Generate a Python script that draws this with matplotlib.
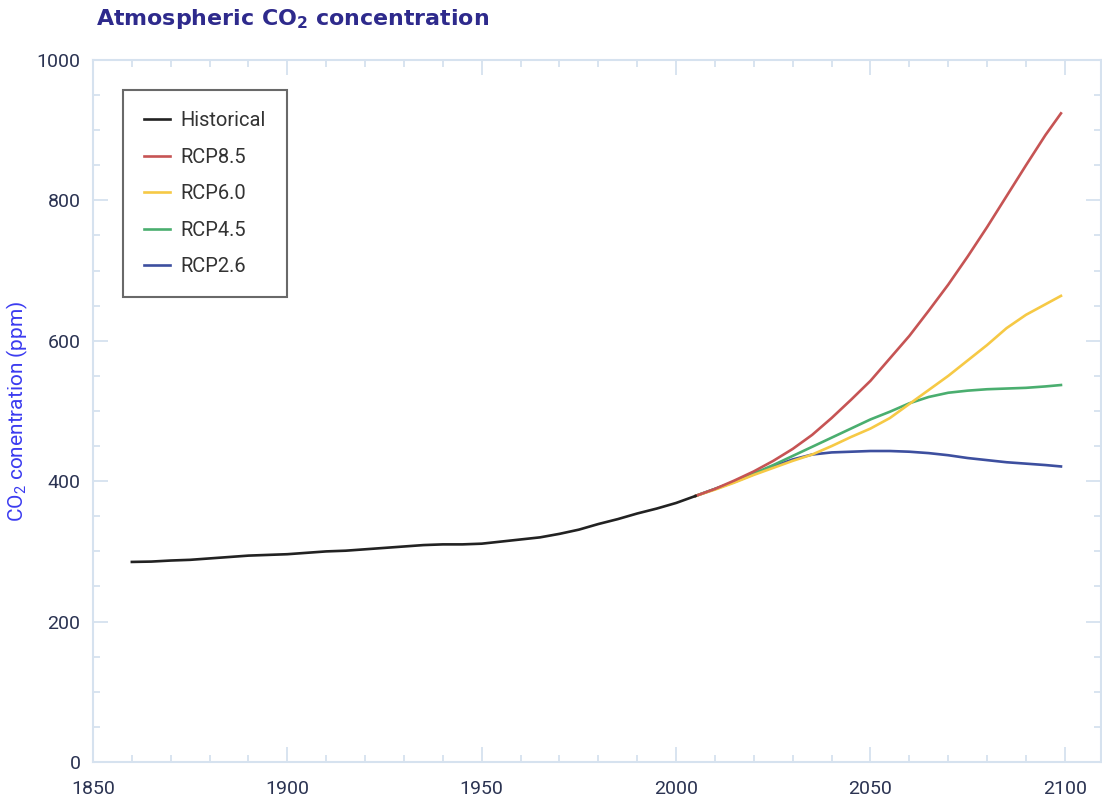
import numpy as np
import matplotlib.pyplot as plt
from matplotlib.ticker import MultipleLocator

# historical record (ppm)
hist_years = [1860, 1865, 1870, 1875, 1880, 1885, 1890, 1895, 1900, 1905, 1910, 1915,
              1920, 1925, 1930, 1935, 1940, 1945, 1950, 1955, 1960, 1965, 1970, 1975,
              1980, 1985, 1990, 1995, 2000, 2005]
hist_co2 = [285, 285.5, 287, 288, 290, 292, 294, 295, 296, 298, 300, 301,
            303, 305, 307, 309, 310, 310, 311, 314, 317, 320, 325, 331,
            339, 346, 354, 361, 369, 379]

# scenario projections (ppm)
proj_years = [2005, 2010, 2015, 2020, 2025, 2030, 2035, 2040, 2045, 2050,
              2055, 2060, 2065, 2070, 2075, 2080, 2085, 2090, 2095, 2099]
rcp85 = [379, 389, 401, 414, 429, 446, 466, 490, 516, 543,
         575, 607, 643, 680, 720, 762, 806, 850, 893, 924]
rcp60 = [379, 388, 398, 409, 419, 429, 438, 450, 463, 475,
         490, 510, 530, 550, 572, 594, 618, 637, 652, 664]
rcp45 = [379, 389, 399, 411, 423, 436, 449, 462, 475, 488,
         499, 511, 520, 526, 529, 531, 532, 533, 535, 537]
rcp26 = [379, 389, 399, 410, 421, 431, 438, 441, 442, 443,
         443, 442, 440, 437, 433, 430, 427, 425, 423, 421]

series_names = ['Historical', 'RCP8.5', 'RCP6.0', 'RCP4.5', 'RCP2.6']
series_colors = ['#222222', '#c65454', '#f6c945', '#4aae6f', '#3d4f9f']

frame_col = '#d6e2ef'
text_col = '#2b3352'

plt.rcParams['font.family'] = ['Roboto', 'DejaVu Sans']
plt.rcParams['mathtext.default'] = 'regular'

fig = plt.figure(figsize=(11.02, 8.05), dpi=100)
ax = fig.add_axes([93 / 1102, 43 / 805, 1008 / 1102, 702 / 805])

lines = {}
lines['RCP2.6'], = ax.plot(proj_years, rcp26, color=series_colors[4], lw=1.9, zorder=2)
lines['RCP4.5'], = ax.plot(proj_years, rcp45, color=series_colors[3], lw=1.9, zorder=3)
lines['RCP6.0'], = ax.plot(proj_years, rcp60, color=series_colors[2], lw=1.9, zorder=4)
lines['RCP8.5'], = ax.plot(proj_years, rcp85, color=series_colors[1], lw=1.9, zorder=5)
lines['Historical'], = ax.plot(hist_years, hist_co2, color=series_colors[0], lw=1.9, zorder=6)

ax.set_xlim(1850, 2109.3)
ax.set_ylim(0, 1000)
ax.xaxis.set_major_locator(MultipleLocator(50))
ax.xaxis.set_minor_locator(MultipleLocator(10))
ax.yaxis.set_major_locator(MultipleLocator(200))
ax.yaxis.set_minor_locator(MultipleLocator(50))

for s in ax.spines.values():
    s.set_color(frame_col)
    s.set_linewidth(1.5)

ax.tick_params(which='both', direction='in', top=True, right=True, color=frame_col,
               width=1.3, labelcolor=text_col, labelsize=14)
ax.tick_params(which='major', length=11)
ax.tick_params(which='minor', length=5)
ax.tick_params(axis='x', which='major', pad=13)
ax.tick_params(axis='y', which='major', pad=9)

ax.set_ylabel('CO$_2$ conentration (ppm)', color='#3b3bf0', fontsize=15)
ax.yaxis.set_label_coords(-0.0625, 0.5)

leg = ax.legend([lines[n] for n in series_names], series_names, loc='upper left',
                bbox_to_anchor=(30 / 1008, 1 - 30 / 702), borderaxespad=0,
                fontsize=14.5, frameon=True, fancybox=False, borderpad=1.05,
                handlelength=1.3, handletextpad=0.5, labelspacing=0.87,
                labelcolor='#333333')
leg.get_frame().set_edgecolor('#444444')
leg.get_frame().set_linewidth(1.5)

fig.text(96 / 1102, 1 - 7 / 805, 'Atmospheric CO$_2$ concentration', ha='left', va='top',
         fontsize=15.9, fontweight='bold', color='#2e2a8c', family='DejaVu Sans')

fig.savefig('out.png', dpi=100)
